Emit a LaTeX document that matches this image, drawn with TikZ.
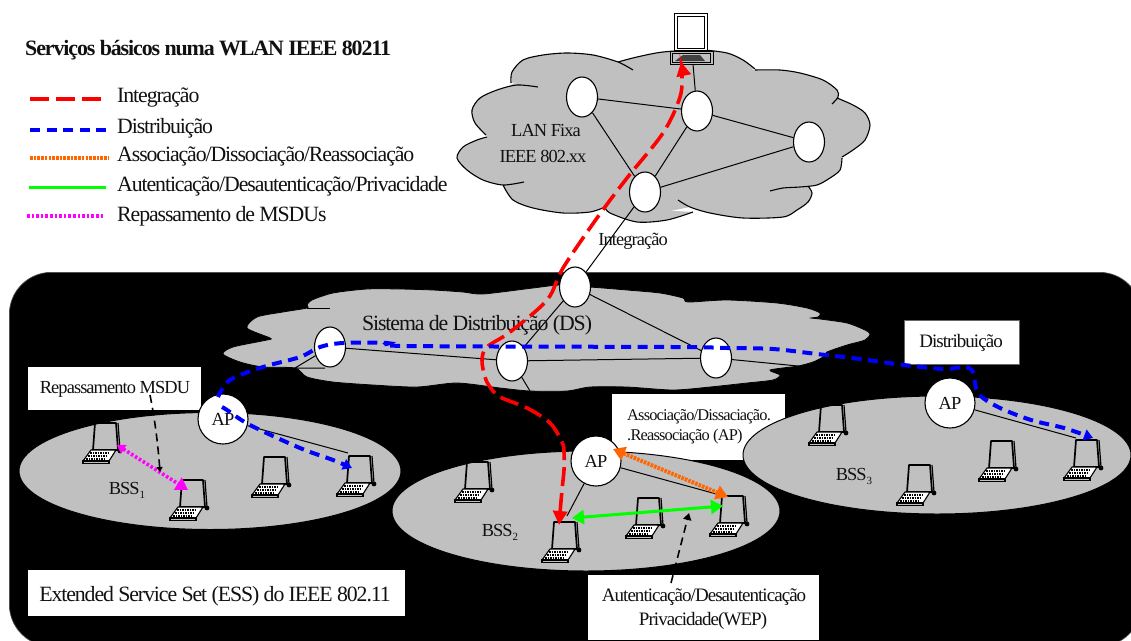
\documentclass[tikz,border=0pt]{standalone}
\usepackage{fontspec}
\setmainfont[LetterSpace=-5]{Liberation Serif}
\usetikzlibrary{arrows.meta,shapes.geometric}
\definecolor{cloudgray}{RGB}{192,192,192}
\definecolor{inkc}{RGB}{17,17,17}
\definecolor{redc}{RGB}{255,0,0}
\definecolor{bluec}{RGB}{0,0,255}
\definecolor{orangec}{RGB}{255,102,0}
\definecolor{greenc}{RGB}{0,255,0}
\definecolor{magc}{RGB}{255,0,255}
\tikzset{
  txt/.style={inner sep=0pt,text=inkc,font=\fontsize{21.8}{26}\selectfont},
  smalltxt/.style={inner sep=0pt,text=inkc,font=\fontsize{18.4}{22}\selectfont},
  midtxt/.style={inner sep=0pt,text=inkc,font=\fontsize{19}{22}\selectfont},
  tinytxt/.style={inner sep=0pt,text=inkc,font=\fontsize{16.4}{20}\selectfont},
  legendtxt/.style={txt,anchor=west},
  whitebox/.style={fill=white,draw=none,inner sep=0pt,anchor=north west},
  station/.style={ellipse,draw=black,fill=white,line width=1.1pt,minimum width=31pt,minimum height=40pt,inner sep=0pt},
  apnode/.style={circle,draw=black,fill=white,line width=1.1pt,minimum size=50pt,inner sep=0pt,smalltxt},
  bss/.style={ellipse,draw=black,fill=cloudgray,line width=1pt,inner sep=0pt},
  link/.style={draw=black,line width=1pt},
  clouda/.style={draw=black,line width=1.1pt},
  redpath/.style={draw=redc,line width=3.6pt,dash pattern=on 19pt off 7pt},
  bluepath/.style={draw=bluec,line width=4pt,dash pattern=on 10pt off 6.5pt},
  orangepath/.style={draw=orangec,line width=4pt,dash pattern=on 2.6pt off 1.1pt},
  greenpath/.style={draw=greenc,line width=3pt},
  magpath/.style={draw=magc,line width=3.6pt,dash pattern=on 2.6pt off 2pt},
  hintpath/.style={draw=black,line width=1.6pt,dash pattern=on 8pt off 5pt},
  laptop/.pic={
    \draw[black,line width=1.7pt,line join=round] (0,0) -- (21,0) -- (23,27) -- (-2,27) -- cycle;
    \draw[black,line width=1.2pt] (23,0) -- (25,27);
    \fill[black] (25,28) circle (2.4pt);
    \draw[black,line width=1.1pt,fill=white,line join=round] (-4,27) -- (21,27) -- (14,38) -- (-12,38) -- cycle;
    \draw[black,line width=1.1pt,fill=cloudgray] (-12,38) rectangle (14,40.5);
    \draw[black,line width=1.6pt,dash pattern=on 1.5pt off 1pt] (-5,30) -- (15,30);
    \draw[black,line width=1.6pt,dash pattern=on 1.5pt off 1pt] (-7,33) -- (13,33);
    \draw[black,line width=1.6pt,dash pattern=on 1.5pt off 1pt] (-9,36) -- (11,36);
  }
}
\def\lanA{plot[smooth] coordinates{(511,83)(512,72)(523,60)(543,55)(567,53)(593,55)(618,62)(633,70)}}
\def\lanB{plot[smooth] coordinates{(618,62)(637,57)(663,52)(700,50)(727,53)(743,60)(755,69)}}
\def\lanC{plot[smooth] coordinates{(755,70)(780,70)(800,73)(823,80)(837,90)(838,97)(832,104)}}
\def\lanD{plot[smooth] coordinates{(837,98)(853,105)(865,113)(870,125)(865,140)(853,150)(842,157)}}
\def\lanE{plot[smooth] coordinates{(842,158)(840,170)(830,178)(817,185)(800,187)(783,188)(770,191)}}
\def\lanF{plot[smooth] coordinates{(808,186)(812,193)(808,202)(797,210)(783,217)(743,218)(710,213)(690,207)(678,200)}}
\def\lanG{plot[smooth] coordinates{(693,212)(667,220)(637,222)(610,213)(605,207)}}
\def\lanH{plot[smooth] coordinates{(605,207)(590,212)(563,213)(533,208)(513,200)(503,185)}}
\def\lanI{plot[smooth] coordinates{(524,182)(503,185)(483,180)(467,170)(457,158)(463,147)(477,140)(487,137)}}
\def\lanJ{plot[smooth] coordinates{(486,135)(475,123)(472,110)(480,98)(497,90)(517,85)(538,87)}}
\begin{document}
\begin{tikzpicture}[x=1pt,y=-1pt]
\useasboundingbox (0,0) rectangle (1131,640);
\fill[white] (0,0) rectangle (1131,640);
% ESS background
\begin{scope}
\clip (0,0) rectangle (1131,640);
\node[draw=black!70,fill=black,rounded corners=42pt,minimum width=1132pt,minimum height=374pt,inner sep=0pt,anchor=north west,line width=.7pt] (ess) at (9,272) {};
\end{scope}
% LAN cloud
\fill[cloudgray] \lanA;
\fill[cloudgray] \lanB;
\fill[cloudgray] \lanC;
\fill[cloudgray] \lanD;
\fill[cloudgray] \lanE;
\fill[cloudgray] \lanF;
\fill[cloudgray] \lanG;
\fill[cloudgray] \lanH;
\fill[cloudgray] \lanI;
\fill[cloudgray] \lanJ;
\fill[cloudgray] (511,85) -- (560,60) -- (618,62) -- (690,55) -- (755,70) -- (800,78) -- (837,98) -- (860,125) -- (842,158) -- (815,180) -- (808,186) -- (800,205) -- (750,212) -- (690,207) -- (650,215) -- (605,207) -- (560,208) -- (503,185) -- (465,158) -- (487,137) -- (478,110) -- cycle;
\draw[clouda] \lanA \lanB \lanC \lanD \lanE \lanF \lanG \lanH \lanI \lanJ;
% DS cloud
\fill[cloudgray,draw=black,line width=.8pt] plot[smooth cycle,tension=.45] coordinates{
 (307,305)(312,300)(333,293)(367,289)(400,289)(433,290)(463,292)(483,294)(533,288)(560,285)(590,287)(627,290)(660,293)(683,298)(688,302)
 (727,300)(777,303)(807,308)(820,313)(818,317)(811,318)(820,319)(847,323)(865,330)(870,334)(865,340)(847,345)(827,352)(823,357)(813,362)(798,366)
 (770,370)(780,375)(773,380)(747,383)(710,387)(673,390)(627,387)(590,387)(567,391)(530,391)(500,388)(457,383)(417,387)(373,385)(333,382)(307,377)(295,368)
 (263,367)(240,362)(223,354)(233,347)(267,340)(270,338)(247,328)(257,317)(283,312)(307,308)};
\draw[black,line width=1pt] (307,308) -- (330,308);
% boxes
\node[whitebox,minimum width=173pt,minimum height=43pt] (boxrep) at (28,367) {};
\node[smalltxt] at (115,389) {Repassamento MSDU};
\node[whitebox,minimum width=115pt,minimum height=44pt,draw=black!60,line width=.5pt] (boxdist) at (904,320) {};
\node[midtxt] at (961,343) {Distribuição};
\node[whitebox,minimum width=173pt,minimum height=66pt] (boxassoc) at (612,394) {};
\node[tinytxt,anchor=west] at (627,417) {Associação/Dissaciação.};
\node[tinytxt,anchor=west] at (627,437) {.Reassociação (AP)};
\node[whitebox,minimum width=377pt,minimum height=46pt] (boxess) at (28,570) {};
\node[txt] at (215,596) {Extended Service Set (ESS) do IEEE 802.11};
\node[whitebox,minimum width=231pt,minimum height=65pt] (boxaut) at (588,575) {};
\node[midtxt] at (704,597) {Autenticação/Desautenticação};
\node[midtxt] at (703,621) {Privacidade(WEP)};
% BSS
\node[bss,minimum width=382pt,minimum height=117pt] (bssa) at (210,471) {};
\node[bss,minimum width=388pt,minimum height=120pt] (bssb) at (586,511) {};
\node[bss,minimum width=388pt,minimum height=118pt] (bssc) at (937,455) {};
% station nodes
\node[station] (e1) at (582,97) {};
\node[station] (e2) at (697,111) {};
\node[station] (e3) at (809,142) {};
\node[station] (e4) at (645,192) {};
\node[station] (e5) at (575,287) {};
\node[station] (d1) at (330,347) {};
\node[station] (d2) at (512,361) {};
\node[station] (d3) at (716,358) {};
\node[apnode] (ap1) at (223,419) {AP};
\node[apnode] (ap2) at (596,461) {AP};
\node[apnode] (ap3) at (950,403) {AP};
% fixed station
\node[draw=black,fill=white,line width=1pt,minimum width=33pt,minimum height=37pt,inner sep=0pt,anchor=north west] (mon) at (674,13) {};
\draw[black,line width=1pt] (677,16) rectangle (704,48);
\node[draw=black,fill=cloudgray,line width=1pt,minimum width=43pt,minimum height=13pt,inner sep=0pt,anchor=north west] (pc) at (670,51) {};
\draw[black,line width=1pt] (672,53) rectangle (710,62);
\fill[black!75] (675,61) -- (683,55) -- (700,55) -- (705,61) -- cycle;
% laptops
\pic at (95,423) {laptop};
\pic at (182,480) {laptop};
\pic at (264,457) {laptop};
\pic at (349,456) {laptop};
\pic at (467,462) {laptop};
\pic at (554,522) {laptop};
\pic at (638,498) {laptop};
\pic at (722,496) {laptop};
\pic at (821,405) {laptop};
\pic at (909,465) {laptop};
\pic at (991,441) {laptop};
\pic at (1076,440) {laptop};
% named connector ends
\coordinate (stubA) at (295,368);
\coordinate (stubB) at (325,368);
\coordinate (stubC) at (798,366);
\coordinate (stubD) at (530,391);
\coordinate (pcLeg) at (693,64);
\coordinate (lapAd) at (348,453);
\coordinate (lapBb) at (567,516);
\coordinate (lapBd) at (720,495);
\coordinate (lapCd) at (1076,438);
% links
\draw[link] (e1) -- (e2);
\draw[link] (e1) -- (e4);
\draw[link] (e2) -- (e4);
\draw[link] (e2) -- (e3);
\draw[link] (e3) -- (e4);
\draw[link] (e2) -- (pcLeg);
\draw[link] (e4) -- (e5);
\draw[link] (e5) -- (d2);
\draw[link] (e5) -- (d3);
\draw[link] (d1) -- (d2);
\draw[link] (d2) -- (d3);
\draw[link] (d1) -- (stubA) -- (stubB);
\draw[link] (d3) -- (stubC);
\draw[link] (d2) -- (stubD);
\draw[link] (ap1) -- (lapAd);
\draw[link] (ap2) -- (lapBb);
\draw[link] (ap2) -- (lapBd);
\draw[link] (ap3) -- (lapCd);
% labels
\node[smalltxt] (tlan) at (546,130) {LAN Fixa};
\node[smalltxt] (tiee) at (543,157) {IEEE 802.xx};
\node[smalltxt] (tint) at (633,241) {Integração};
\node[txt] (tds) at (477,325) {Sistema de Distribuição (DS)};
\node[smalltxt] (tb1) at (127,490) {BSS\raisebox{-4pt}{\fontsize{11}{11}\selectfont 1}};
\node[smalltxt] (tb2) at (500,532) {BSS\raisebox{-4pt}{\fontsize{11}{11}\selectfont 2}};
\node[smalltxt] (tb3) at (854,476) {BSS\raisebox{-4pt}{\fontsize{11}{11}\selectfont 3}};
% coloured paths
\coordinate (redA) at (559,525);
\coordinate (redB) at (681,62);
\draw[redpath,{Triangle[length=14pt,width=14pt]}-{Triangle[length=14pt,width=14pt]}] plot[smooth,tension=.55] coordinates{(redA)(562,490)(564,470)(564,452)(562,442)(550,423)(527,408)(500,397)(490,387)(485,377)(482,360)(487,347)(510,332)(547,300)(563,268)(597,218)(627,178)(663,133)(680,97)(682,73)(redB)};
\coordinate (blueA) at (218,397);
\coordinate (blueB) at (1093,438);
\draw[bluepath,-{Triangle[length=9pt,width=11pt]}] plot[smooth,tension=.55] coordinates{(blueA)(230,380)(263,367)(300,357)(320,347)(343,343)(387,343)(407,346)(673,347)(727,348)(773,349)(817,354)(860,359)(904,365)(944,369)(964,367)(973,372)(978,393)(998,407)(1031,420)(1064,428)(blueB)};
\coordinate (blueC) at (222,407);
\coordinate (blueD) at (352,468);
\draw[bluepath,-{Triangle[length=9pt,width=11pt]}] plot[smooth,tension=.55] coordinates{(blueC)(227,410)(250,425)(300,448)(333,460)(blueD)};
\coordinate (orA) at (613,449);
\coordinate (orB) at (728,497);
\draw[orangepath,{Triangle[length=12pt,width=14pt]}-{Triangle[length=12pt,width=14pt]}] (orA) -- (orB);
\coordinate (grA) at (572,518);
\coordinate (grB) at (723,506);
\draw[greenpath,{Triangle[length=12pt,width=14pt]}-{Triangle[length=12pt,width=14pt]}] (grA) -- (grB);
\coordinate (mgA) at (117,445);
\coordinate (mgB) at (188,490);
\draw[magpath,{Triangle[length=8pt,width=10pt]}-{Triangle[length=12pt,width=14pt]}] (mgA) -- (mgB);
% hint arrows
\coordinate (hintA) at (150,395);
\coordinate (hintB) at (160,472);
\draw[hintpath,-{Triangle[length=5pt,width=6pt]}] (hintA) .. controls (155,420) and (158,445) .. (hintB);
\coordinate (hintC) at (671,583);
\coordinate (hintD) at (689,513);
\draw[hintpath,-{Triangle[length=7pt,width=8pt]}] (hintC) -- (hintD);
% title and legend
\node[txt,anchor=west,font=\fontsize{21.9}{26}\bfseries\selectfont] (title) at (25,50) {Serviços básicos numa WLAN IEEE 80211};
\coordinate (la) at (30,99); \coordinate (la2) at (104,99);
\coordinate (lb) at (30,130); \coordinate (lb2) at (106,130);
\coordinate (lc) at (30,158); \coordinate (lc2) at (108,158);
\coordinate (ld) at (29,187); \coordinate (ld2) at (106,187);
\coordinate (le) at (27,216); \coordinate (le2) at (104,216);
\draw[redpath] (la) -- (la2);
\draw[bluepath] (lb) -- (lb2);
\draw[orangepath] (lc) -- (lc2);
\draw[greenpath] (ld) -- (ld2);
\draw[magpath] (le) -- (le2);
\node[legendtxt] (l1) at (117,98) {Integração};
\node[legendtxt] (l2) at (117,128) {Distribuição};
\node[legendtxt] (l3) at (117,156) {Associação/Dissociação/Reassociação};
\node[legendtxt] (l4) at (117,186) {Autenticação/Desautenticação/Privacidade};
\node[legendtxt] (l5) at (117,216) {Repassamento de MSDUs};
\end{tikzpicture}
\end{document}
